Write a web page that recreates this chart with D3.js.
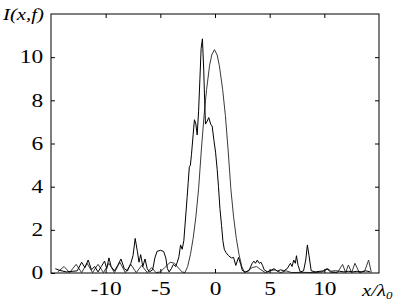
<!DOCTYPE html>
<html>
<head>
<meta charset="utf-8">
<script src="https://cdn.jsdelivr.net/npm/d3@7"></script>
<style>
  body { margin: 0; background: #fff; }
</style>
</head>
<body>
<div id="chart"></div>
<script>
// measured (jagged) profile
const measured = [
  [-14.6,0.2],[-14.2,0.12],[-13.6,0.05],[-13.0,0.08],[-12.6,0.1],[-12.2,0.5],[-11.9,0.25],[-11.6,0.6],
  [-11.3,0.15],[-11.0,0.3],[-10.7,0.05],[-10.4,0.3],[-10.1,0.55],[-9.9,0.2],[-9.7,0.7],[-9.5,0.3],
  [-9.2,0.1],[-8.9,0.35],[-8.6,0.65],[-8.3,0.2],[-8.0,0.1],[-7.7,0.45],[-7.5,0.8],[-7.3,1.6],
  [-7.1,1.0],[-6.95,0.5],[-6.8,0.85],[-6.6,0.3],[-6.4,0.65],[-6.2,0.2],[-6.0,0.05],[-5.7,0.15],
  [-5.5,0.7],[-5.3,1.0],[-5.0,1.05],[-4.7,1.0],[-4.5,0.7],[-4.35,0.2],[-4.2,0.05],[-4.0,0.2],
  [-3.8,0.4],[-3.6,0.3],[-3.45,0.5],[-3.3,0.75],[-3.15,1.3],[-3.0,1.1],[-2.85,1.5],[-2.7,2.5],
  [-2.55,3.5],[-2.45,4.2],[-2.35,4.9],[-2.25,5.0],[-2.15,5.5],[-2.0,6.4],[-1.88,7.1],[-1.75,6.9],
  [-1.63,6.4],[-1.5,7.5],[-1.38,9.0],[-1.27,10.4],[-1.15,10.85],[-1.03,9.4],[-0.95,8.0],[-0.87,6.9],
  [-0.75,7.0],[-0.57,7.2],[-0.4,6.9],[-0.26,6.8],[-0.1,6.15],[0.05,5.6],[0.2,4.8],[0.32,4.0],
  [0.45,3.0],[0.6,2.2],[0.72,1.5],[0.85,1.1],[1.0,0.95],[1.24,0.8],[1.5,0.7],[1.7,0.72],
  [1.9,0.35],[2.15,0.72],[2.35,0.4],[2.5,0.12],[2.8,0.05],[3.1,0.1],[3.4,0.45],[3.56,0.55],
  [3.7,0.45],[3.87,0.6],[4.05,0.45],[4.2,0.5],[4.35,0.35],[4.5,0.15],[4.8,0.05],[5.1,0.12],
  [5.4,0.2],[5.7,0.08],[6.0,0.15],[6.3,0.1],[6.6,0.2],[6.9,0.45],[7.05,0.3],[7.2,0.6],
  [7.35,0.45],[7.45,0.8],[7.6,0.35],[7.8,0.05],[8.1,0.1],[8.3,0.6],[8.45,1.3],[8.6,0.8],
  [8.8,0.1],[9.2,0.05],[9.6,0.08],[10.0,0.1],[10.3,0.2],[10.6,0.08],[11.0,0.1],[11.4,0.08],
  [11.8,0.05],[12.2,0.08],[12.6,0.05],[13.0,0.08],[13.4,0.05],[13.8,0.1],[14.2,0.05]
];

// smooth (calculated) profile
const smooth = [
  [-14.4,0.05],[-13.8,0.3],[-13.3,0.02],[-12.7,0.4],[-12.2,0.02],[-11.7,0.45],[-11.2,0.02],[-10.7,0.4],
  [-10.2,0.02],[-9.7,0.45],[-9.2,0.02],[-8.7,0.5],[-8.2,0.02],[-7.7,0.4],[-7.2,0.02],[-6.7,0.35],
  [-6.2,0.02],[-5.8,0.25],[-5.4,0.02],[-5.0,0.05],[-4.6,0.25],[-4.1,0.5],[-3.7,0.45],[-3.3,0.2],
  [-3.0,0.05],[-2.75,0.02],[-2.5,0.3],[-2.25,0.85],[-2.0,1.6],[-1.75,2.6],[-1.5,3.9],[-1.25,5.7],
  [-1.0,7.3],[-0.77,8.5],[-0.5,9.6],[-0.3,10.1],[-0.05,10.35],[0.2,10.1],[0.4,9.6],[0.7,8.5],
  [0.95,7.3],[1.2,5.7],[1.45,3.9],[1.7,2.6],[1.95,1.6],[2.2,0.85],[2.45,0.3],[2.7,0.02],
  [3.0,0.1],[3.4,0.25],[3.8,0.3],[4.2,0.15],[4.6,0.02],[5.0,0.1],[5.5,0.15],[6.0,0.02],
  [6.5,0.1],[7.0,0.02],[8.0,0.03],[9.0,0.02],[9.8,0.05],[10.2,0.2],[10.6,0.03],[11.2,0.02],
  [11.67,0.4],[11.95,0.02],[12.2,0.37],[12.5,0.02],[12.8,0.45],[13.2,0.02],[13.7,0.1],[14.05,0.6],
  [14.3,0.02]
];

const xTicks = [-10, -5, 0, 5, 10];
const yTicks = [0, 2, 4, 6, 8, 10];

const W = 398, H = 308;
const margin = {left: 51, right: 19, top: 14, bottom: 35};
const stretch = 1.3;
const serif = '"Liberation Serif"';

const x = d3.scaleLinear().domain([-15, 15]).range([margin.left, W - margin.right]);
const y = d3.scaleLinear().domain([0, 12]).range([H - margin.bottom, margin.top]);

const svg = d3.select("#chart").append("svg")
    .attr("width", W).attr("height", H);

const line = d3.line().x(d => x(d[0])).y(d => y(d[1]));

svg.append("path").datum(smooth)
    .attr("fill", "none").attr("stroke", "#3a3a3a").attr("stroke-width", 1)
    .attr("d", line);
svg.append("path").datum(measured)
    .attr("fill", "none").attr("stroke", "#000").attr("stroke-width", 1)
    .attr("d", line);

// axes, ticks inward on all four sides
const bottom = svg.append("g").attr("transform", `translate(0,${y(0)})`)
    .call(d3.axisBottom(x).tickValues(xTicks).tickSize(-4).tickPadding(9).tickFormat(d => String(d)));
const left = svg.append("g").attr("transform", `translate(${x(-15)},0)`)
    .call(d3.axisLeft(y).tickValues(yTicks).tickSize(-4).tickPadding(6).tickFormat(d => String(d)));
svg.append("g").attr("transform", `translate(0,${y(12)})`)
    .call(d3.axisTop(x).tickValues(xTicks).tickSize(-4).tickFormat(""));
svg.append("g").attr("transform", `translate(${x(15)},0)`)
    .call(d3.axisRight(y).tickValues(yTicks.slice(1)).tickSize(-4).tickFormat(""));

svg.selectAll(".domain").remove();
svg.selectAll(".tick line").attr("stroke", "#000");

bottom.attr("font-family", null);
left.attr("font-family", null);
bottom.selectAll("text").attr("font-size", 18).attr("fill", "#000")
    .style("font-family", serif).attr("transform", `scale(${stretch},1)`);
left.selectAll("text").attr("font-size", 18).attr("fill", "#000")
    .style("font-family", serif).attr("transform", `scale(${stretch},1)`);

svg.append("rect")
    .attr("x", x(-15)).attr("y", y(12))
    .attr("width", x(15) - x(-15)).attr("height", y(0) - y(12))
    .attr("fill", "none").attr("stroke", "#000").attr("stroke-width", 1);

svg.append("text")
    .attr("transform", `translate(3,20) scale(${stretch},1)`)
    .style("font-family", serif)
    .attr("font-size", 16).attr("font-style", "italic")
    .text("I(x,f)");

const xl = svg.append("text")
    .attr("transform", `translate(362,296) scale(${stretch},1)`)
    .style("font-family", serif)
    .attr("font-size", 16).attr("font-style", "italic");
xl.append("tspan").text("x/λ");
xl.append("tspan").attr("font-size", 10).attr("dy", 3).text("0");
</script>
</body>
</html>
